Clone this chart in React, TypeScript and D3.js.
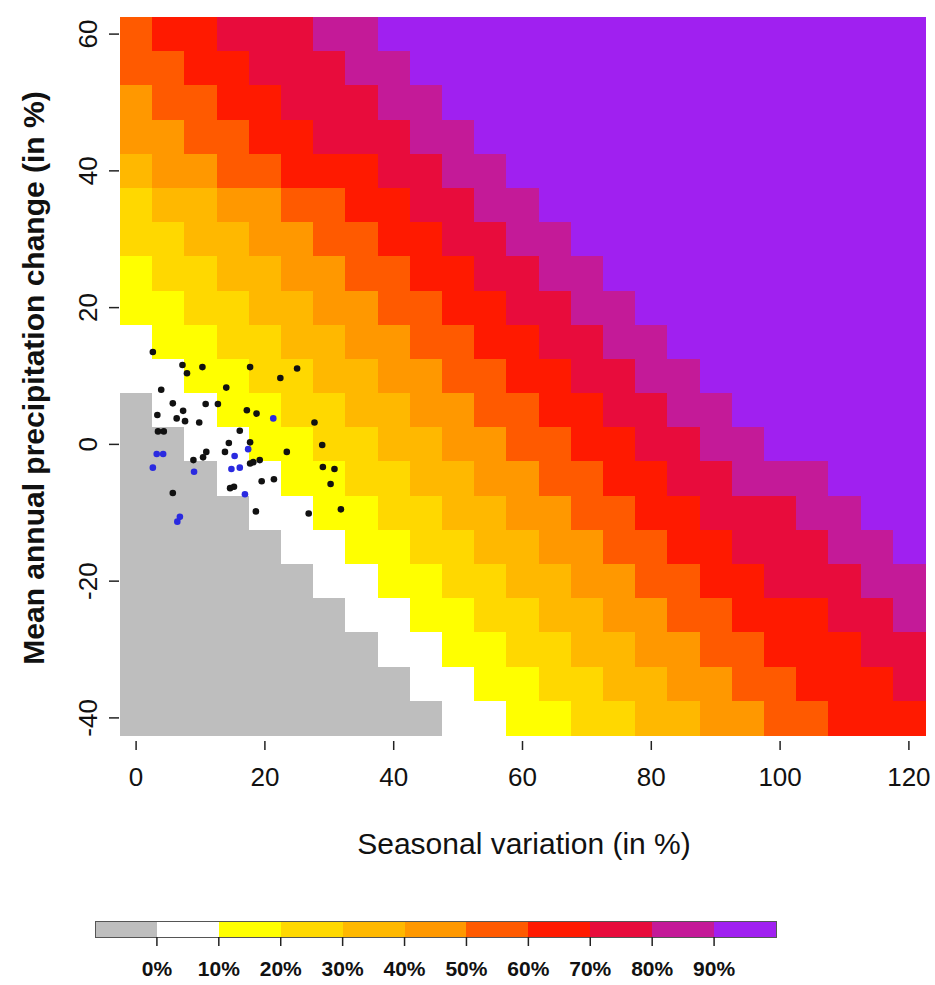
import React from "react";
import * as d3 from "d3";

// ---- data ----
const seasonalVariation = [0, 5, 10, 15, 20, 25, 30, 35, 40, 45, 50, 55, 60, 65, 70, 75, 80, 85, 90, 95, 100, 105, 110, 115, 120];
const precipitationChange = [60, 55, 50, 45, 40, 35, 30, 25, 20, 15, 10, 5, 0, -5, -10, -15, -20, -25, -30, -35, -40];
// risk class of every cell (0 = 0%, 1 = 0-10%, ..., A = 90-100%), one string per row, top row first
const riskRows = [
  "67788899AAAAAAAAAAAAAAAAA",
  "667788899AAAAAAAAAAAAAAAA",
  "5667788899AAAAAAAAAAAAAAA",
  "55667788899AAAAAAAAAAAAAA",
  "455667778899AAAAAAAAAAAAA",
  "3445566778899AAAAAAAAAAAA",
  "33445566778899AAAAAAAAAAA",
  "233445566778899AAAAAAAAAA",
  "2233445566778899AAAAAAAAA",
  "12233445566778899AAAAAAAA",
  "112233445566778899AAAAAAA",
  "0112233445566778899AAAAAA",
  "00112233445566778899AAAAA",
  "0001122334455667788999AAA",
  "000011223344556677888 99AA".replace(" ", ""),
  "0000011223344556677888 99A".replace(" ", ""),
  "00000011223344556677888 99".replace(" ", ""),
  "0000000112233445566777889",
  "0000000011223344556677788",
  "0000000001122334455667778",
  "0000000000112233445566777",
];
const classColors = ["#bebebe", "#ffffff", "#ffff00", "#ffd800", "#ffb800", "#ff9800", "#ff5a00", "#ff1a00", "#e80c3c", "#c41a98", "#a020f0"];
const legendLabels = ["0%", "10%", "20%", "30%", "40%", "50%", "60%", "70%", "80%", "90%"];
const xTicks = [0, 20, 40, 60, 80, 100, 120];
const yTicks = [-40, -20, 0, 20, 40, 60];

const blackSeasonal = [3.9, 14.0, 22.4, 5.7, 7.3, 10.8, 12.7, 17.2, 18.7, 3.3, 6.3, 7.6, 9.8, 27.7, 3.4, 4.3, 16.1, 14.4, 17.7, 28.9, 10.9, 13.8, 23.4, 8.9, 10.4, 17.7, 18.2, 19.2, 29.0, 30.8, 19.5, 21.4, 30.2, 5.7, 14.6, 15.2, 18.6, 26.8, 31.8, 2.6, 7.2, 7.9, 10.3, 17.7, 25.0];
const blackPrecip = [8.0, 8.3, 9.7, 6.0, 4.9, 5.9, 5.9, 5.0, 4.5, 4.3, 3.8, 3.4, 3.2, 3.2, 1.9, 1.9, 2.0, 0.2, 0.3, -0.1, -1.1, -1.1, -1.1, -2.3, -1.9, -2.8, -2.6, -2.3, -3.3, -3.6, -5.4, -5.1, -5.8, -7.1, -6.4, -6.2, -9.8, -10.1, -9.5, 13.5, 11.6, 10.4, 11.3, 11.3, 11.1];
const blueSeasonal = [21.3, 3.2, 4.2, 17.4, 15.3, 2.6, 9.0, 14.8, 16.1, 16.9, 6.8, 6.4];
const bluePrecip = [3.8, -1.4, -1.4, -0.7, -1.7, -3.4, -4.0, -3.6, -3.4, -7.3, -10.6, -11.3];

const FONT = "'Liberation Sans', Arial, Helvetica, sans-serif";

export default function App() {
  const W = 935, H = 985;
  const x = d3.scaleLinear().domain([-2.5, 122.5]).range([120, 925]);
  const y = d3.scaleLinear().domain([-42.5, 62.5]).range([735, 17]);

  const cells: { xv: number; yv: number; c: number }[] = [];
  riskRows.forEach((row, j) => {
    row.split("").forEach((ch, i) => {
      cells.push({ xv: seasonalVariation[i], yv: precipitationChange[j], c: parseInt(ch, 16) });
    });
  });

  const legX = d3.scaleLinear().domain([0, classColors.length]).range([95, 776]);
  const legTop = 921, legH = 16;

  return (
    <svg width={W} height={H} style={{ display: "block", position: "absolute", left: 0, top: 0, background: "#fff" }}>
      <g shapeRendering="crispEdges">
        {cells.map((d, k) => (
          <rect key={k}
            x={x(d.xv - 2.5)} y={y(d.yv + 2.5)}
            width={x(d.xv + 2.5) - x(d.xv - 2.5) + 0.6}
            height={y(d.yv - 2.5) - y(d.yv + 2.5) + 0.6}
            fill={classColors[d.c]} />
        ))}
      </g>
      {blackSeasonal.map((v, k) => (
        <circle key={"b" + k} cx={x(v)} cy={y(blackPrecip[k])} r={3.3} fill="#111" />
      ))}
      {blueSeasonal.map((v, k) => (
        <circle key={"u" + k} cx={x(v)} cy={y(bluePrecip[k])} r={3.3} fill="#2a2ae0" />
      ))}
      {/* x axis */}
      {xTicks.map((t) => (
        <g key={"xt" + t}>
          <line x1={x(t)} x2={x(t)} y1={741} y2={750} stroke="#222" strokeWidth={1.5} />
          <text x={x(t)} y={786} textAnchor="middle" fontFamily={FONT} fontSize={26} fill="#111">{t}</text>
        </g>
      ))}
      {/* y axis */}
      {yTicks.map((t) => (
        <g key={"yt" + t}>
          <line x1={109} x2={119} y1={y(t)} y2={y(t)} stroke="#222" strokeWidth={1.5} />
          <text transform={`translate(97,${y(t)}) rotate(-90)`} textAnchor="middle" fontFamily={FONT} fontSize={26} fill="#111">{t}</text>
        </g>
      ))}
      <text x={524} y={854} textAnchor="middle" fontFamily={FONT} fontSize={30} fill="#111">Seasonal variation (in %)</text>
      <text transform={`translate(44,378) rotate(-90)`} textAnchor="middle" fontFamily={FONT} fontSize={30} fontWeight="bold" fill="#111">Mean annual precipitation change (in %)</text>
      {/* legend */}
      <g shapeRendering="crispEdges">
        {classColors.map((c, k) => (
          <rect key={"l" + k} x={legX(k)} y={legTop} width={legX(k + 1) - legX(k) + 0.5} height={legH} fill={c} />
        ))}
        <rect x={legX(0)} y={legTop} width={legX(classColors.length) - legX(0)} height={legH} fill="none" stroke="#555" strokeWidth={1} />
      </g>
      {legendLabels.map((l, k) => (
        <g key={"ll" + k}>
          <line x1={legX(k + 1)} x2={legX(k + 1)} y1={legTop + legH} y2={legTop + legH + 9} stroke="#222" strokeWidth={1.5} />
          <text x={legX(k + 1)} y={976} textAnchor="middle" fontFamily={FONT} fontSize={21} fontWeight="bold" fill="#111">{l}</text>
        </g>
      ))}
    </svg>
  );
}
